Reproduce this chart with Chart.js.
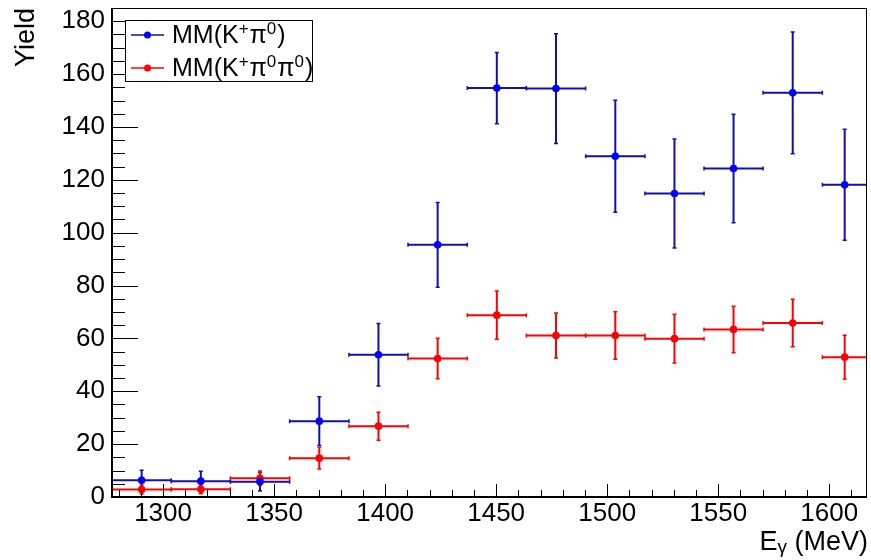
<!DOCTYPE html>
<html>
<head>
<meta charset="utf-8">
<script src="https://cdn.jsdelivr.net/npm/chart.js@4.4.0/dist/chart.umd.min.js"></script>
<style>
  body { margin: 0; background: #fff; }
  canvas { display: block; }
</style>
</head>
<body>
<canvas id="yieldChart" width="871" height="560"></canvas>
<script>
// bin edges in E_gamma (MeV)
const binEdges = [1277, 1303.7, 1330.3, 1357, 1383.7, 1410.3, 1437, 1463.6, 1490.3, 1517, 1543.6, 1570.2, 1596.9, 1617];
// MM(K+ pi0)
const kPiYield = [6.3, 6.0, 5.8, 28.7, 53.8, 95.4, 154.7, 154.5, 128.9, 114.8, 124.3, 152.9, 118.1];
const kPiErr   = [3.8, 3.7, 3.5, 9.2, 11.8, 16.0, 13.5, 20.8, 21.2, 20.6, 20.5, 23.0, 21.0];
// MM(K+ pi0 pi0)
const kPiPiYield = [2.8, 2.9, 7.1, 14.7, 26.8, 52.4, 68.8, 61.1, 61.1, 59.9, 63.4, 65.8, 52.9];
const kPiPiErr   = [1.7, 1.7, 2.7, 4.1, 5.3, 7.7, 9.1, 8.5, 9.0, 9.2, 8.8, 9.0, 8.3];

const xRange = [1277, 1617];
const yRange = [0, 185];
const FONT = '"Liberation Sans", Arial, sans-serif';

function makePoints(vals, errs) {
  return vals.map((v, i) => ({
    x: (binEdges[i] + binEdges[i + 1]) / 2,
    y: v,
    xlo: binEdges[i],
    xhi: binEdges[i + 1],
    err: errs[i]
  }));
}

const errorBars = {
  id: 'errorBars',
  beforeDatasetsDraw(chart) {
    const { ctx, chartArea, scales: { x, y } } = chart;
    ctx.save();
    ctx.beginPath();
    ctx.rect(chartArea.left, chartArea.top, chartArea.width, chartArea.height);
    ctx.clip();
    chart.data.datasets.forEach(ds => {
      ctx.strokeStyle = ds.barColor;
      ds.data.forEach(p => {
        const px = x.getPixelForValue(p.x), py = y.getPixelForValue(p.y);
        const x0 = x.getPixelForValue(p.xlo), x1 = x.getPixelForValue(p.xhi);
        const y0 = y.getPixelForValue(p.y - p.err), y1 = y.getPixelForValue(p.y + p.err);
        ctx.lineWidth = 2;
        ctx.beginPath();
        ctx.moveTo(x0, py); ctx.lineTo(x1, py);
        ctx.moveTo(px, y0); ctx.lineTo(px, y1);
        ctx.stroke();
        ctx.lineWidth = 1.5;
        ctx.beginPath();
        ctx.moveTo(x0, py - 2); ctx.lineTo(x0, py + 2);
        ctx.moveTo(x1, py - 2); ctx.lineTo(x1, py + 2);
        ctx.moveTo(px - 2, y0); ctx.lineTo(px + 2, y0);
        ctx.moveTo(px - 2, y1); ctx.lineTo(px + 2, y1);
        ctx.stroke();
      });
    });
    ctx.restore();
  }
};

// ROOT-style frame with inward ticks, axis titles and legend
const rootFrame = {
  id: 'rootFrame',
  afterDraw(chart) {
    const { ctx, chartArea: a, scales: { x, y } } = chart;
    ctx.save();
    ctx.strokeStyle = '#000';
    ctx.lineWidth = 1;
    ctx.strokeRect(a.left + 0.5, a.top + 0.5, a.width - 1, a.height - 1);
    ctx.lineWidth = 2;
    ctx.beginPath();
    ctx.moveTo(a.left, a.top); ctx.lineTo(a.left, a.bottom); ctx.lineTo(a.right, a.bottom);
    ctx.stroke();

    ctx.lineWidth = 1;
    ctx.beginPath();
    for (let v = Math.ceil(x.min / 10) * 10; v <= x.max; v += 10) {
      const px = Math.round(x.getPixelForValue(v)) + 0.5;
      const len = v % 50 === 0 ? 13 : 7;
      ctx.moveTo(px, a.bottom); ctx.lineTo(px, a.bottom - len);
    }
    for (let v = Math.ceil(y.min / 5) * 5; v <= y.max; v += 5) {
      const py = Math.round(y.getPixelForValue(v)) + 0.5;
      const len = v % 20 === 0 ? 26 : 13;
      ctx.moveTo(a.left, py); ctx.lineTo(a.left + len, py);
    }
    ctx.stroke();

    // axis titles
    ctx.fillStyle = '#000';
    ctx.font = '27px ' + FONT;
    ctx.save();
    ctx.translate(34, 8);
    ctx.rotate(-Math.PI / 2);
    ctx.textAlign = 'right';
    ctx.textBaseline = 'alphabetic';
    ctx.fillText('Yield', 0, 0);
    ctx.restore();

    ctx.textAlign = 'left';
    ctx.textBaseline = 'alphabetic';
    ctx.font = '27px ' + FONT;
    const tail = ' (MeV)';
    const wTail = ctx.measureText(tail).width;
    const wE = ctx.measureText('E').width;
    ctx.font = '19px ' + FONT;
    const wG = ctx.measureText('\u03b3').width;
    let tx = 868 - wTail - wG - wE;
    ctx.font = '27px ' + FONT;
    ctx.fillText('E', tx, 550);
    ctx.font = '19px ' + FONT;
    ctx.fillText('\u03b3', tx + wE, 553);
    ctx.font = '27px ' + FONT;
    ctx.fillText(tail, tx + wE + wG, 550);

    // legend
    ctx.fillStyle = '#fff';
    ctx.fillRect(125, 20, 188, 62);
    ctx.strokeStyle = '#000';
    ctx.lineWidth = 1;
    ctx.strokeRect(125.5, 20.5, 187, 61);
    const entries = [
      { color: '#0000ff', line: '#1010b0', y: 35, parts: [['MM(K', 0], ['+', 1], ['\u03c0', 0], ['0', 1], [')', 0]] },
      { color: '#ff0000', line: '#ff0000', y: 68, parts: [['MM(K', 0], ['+', 1], ['\u03c0', 0], ['0', 1], ['\u03c0', 0], ['0', 1], [')', 0]] }
    ];
    entries.forEach(e => {
      ctx.strokeStyle = e.line;
      ctx.lineWidth = 1.5;
      ctx.beginPath();
      ctx.moveTo(131, e.y); ctx.lineTo(164, e.y);
      ctx.stroke();
      ctx.fillStyle = e.color;
      ctx.beginPath();
      ctx.arc(147.5, e.y, 3.5, 0, Math.PI * 2);
      ctx.fill();
      ctx.fillStyle = '#000';
      let cx = 172;
      const base = e.y + 7.5;
      e.parts.forEach(([t, sup]) => {
        ctx.font = (sup ? '17px ' : '25px ') + FONT;
        ctx.fillText(t, cx, sup ? base - 9 : base);
        cx += ctx.measureText(t).width + (sup ? 1 : 0);
      });
    });
    ctx.restore();
  }
};

new Chart(document.getElementById('yieldChart'), {
  type: 'scatter',
  data: {
    datasets: [
      {
        label: 'MM(K\u207a\u03c0\u2070)',
        data: makePoints(kPiYield, kPiErr),
        backgroundColor: '#0000ff',
        barColor: '#1010b0',
        pointRadius: 3.8,
        pointBorderWidth: 0
      },
      {
        label: 'MM(K\u207a\u03c0\u2070\u03c0\u2070)',
        data: makePoints(kPiPiYield, kPiPiErr),
        backgroundColor: '#ff0000',
        barColor: '#ff0000',
        pointRadius: 3.8,
        pointBorderWidth: 0
      }
    ]
  },
  options: {
    responsive: false,
    animation: false,
    devicePixelRatio: 1,
    layout: { padding: { top: 8, right: 2, left: 0, bottom: 0 } },
    plugins: { legend: { display: false }, tooltip: { enabled: false } },
    scales: {
      x: {
        type: 'linear',
        min: xRange[0],
        max: xRange[1],
        grid: { display: false, drawTicks: false },
        border: { display: false },
        ticks: { stepSize: 50, includeBounds: false, padding: 1, color: '#000', font: { family: FONT, size: 26 }, callback: v => String(v) },
        afterFit(s) { s.height = 63; s.paddingLeft = 0; s.paddingRight = 0; }
      },
      y: {
        type: 'linear',
        min: yRange[0],
        max: yRange[1],
        grid: { display: false, drawTicks: false },
        border: { display: false },
        ticks: { stepSize: 20, includeBounds: false, padding: 7, color: '#000', font: { family: FONT, size: 26 }, callback: v => String(v) },
        afterFit(s) { s.width = 112; s.paddingTop = 0; s.paddingBottom = 0; }
      }
    }
  },
  plugins: [errorBars, rootFrame]
});
</script>
</body>
</html>
